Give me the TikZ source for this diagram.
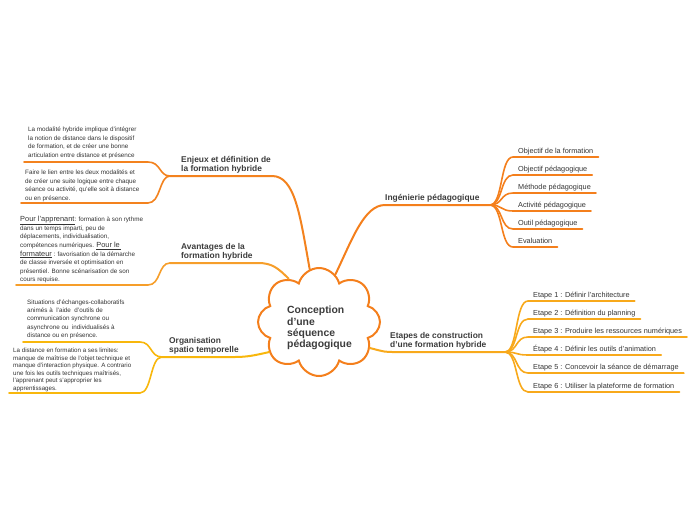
\documentclass[tikz,border=0pt]{standalone}
\usepackage{fontspec}
\setmainfont{Liberation Sans}
\usetikzlibrary{shapes.symbols}
\definecolor{cE}{HTML}{F3821E}
\definecolor{cA}{HTML}{F69E2A}
\definecolor{cO}{HTML}{F8B70C}
\definecolor{cI}{HTML}{F47F1C}
\definecolor{cS}{HTML}{F8A91B}
\definecolor{cloudc}{HTML}{F47F1C}
\definecolor{txt}{HTML}{333333}
\definecolor{lbltxt}{HTML}{3C3C3C}
\begin{document}
\begin{tikzpicture}[x=1pt,y=-1pt,
  leafR/.style={anchor=south west, inner xsep=5pt, inner ysep=3pt, text depth=0pt, font=\fontsize{7.3}{8}\selectfont, text=txt},
  blk/.style={anchor=south west, inner xsep=4pt, inner ysep=4pt, text depth=0pt, align=left, text=txt},
  lbl/.style={anchor=south west, inner xsep=5pt, inner ysep=4pt, text depth=0pt, align=left, font=\bfseries\fontsize{8.4}{9.5}\selectfont, text=lbltxt},
  br/.style={line width=2pt, line cap=round},
  sb/.style={line width=1.6pt, line cap=round}]
\useasboundingbox (0,0) rectangle (696,520);

% root
\node[cloud, cloud puffs=8, cloud ignores aspect, shape border rotate=22.5, draw=cloudc, line width=2pt,
      minimum width=122pt, minimum height=108pt, inner sep=0pt] (root) at (319,322) {};
\node[align=left, font=\bfseries\fontsize{10.4}{11.3}\selectfont, text=lbltxt] (roottxt) at (319.5,328)
  {Conception\\d'une\\séquence\\pédagogique};

% ---------- Enjeux ----------
\coordinate (jE) at (170,176);
\node[lbl] (lE) at (176,176) {Enjeux et définition de\\la formation hybride};
\draw[br,cE] (root.100) .. controls (300,215) and (295,176) .. (272,176) -- (jE);
\node[blk, inner ysep=4.5pt, font=\fontsize{6.3}{8.5}\selectfont] (L1) at (24,162)
  {La modalité hybride implique d'intégrer\\la notion de distance dans le dispositif\\de formation, et de créer une bonne\\articulation entre distance et présence};
\node[blk, inner ysep=2.5pt, font=\fontsize{6.3}{8.6}\selectfont] (L2) at (21,203)
  {Faire le lien entre les deux modalités et\\de créer une suite logique entre chaque\\séance ou activité, qu'elle soit à distance\\ou en présence.};
\draw[sb,cE] (jE) .. controls (159,176) and (161,162) .. (148,162) -- (L1.south west);
\draw[sb,cE] (jE) .. controls (159,176) and (161,203) .. (148,203) -- (L2.south west);

% ---------- Avantages ----------
\coordinate (jA) at (170,263);
\node[lbl] (lA) at (176,263) {Avantages de la\\formation hybride};
\draw[br,cA] (root.125) .. controls (278,268) and (272,263) .. (258,263) -- (jA);
\node[blk, inner ysep=3pt, font=\fontsize{6.3}{8.6}\selectfont] (L3) at (16,285)
  {{\fontsize{7.4}{8.6}\selectfont\underline{Pour l'apprenant}}: formation à son rythme\\dans un temps imparti, peu de\\déplacements, individualisation,\\compétences numériques. {\fontsize{7.4}{8.6}\selectfont\underline{Pour le\,}}\\{\fontsize{7.4}{8.6}\selectfont\underline{formateur}} : favorisation de la démarche\\de classe inversée et optimisation en\\présentiel. Bonne scénarisation de son\\cours requise.};
\draw[sb,cA] (jA) .. controls (158,263) and (161,285) .. (148,285) -- (L3.south west);

% ---------- Organisation ----------
\coordinate (jO) at (162,357);
\node[lbl] (lO) at (164,357) {Organisation\\spatio temporelle};
\draw[br,cO] (root.211) .. controls (256,355) and (248,357) .. (235,357) -- (jO);
\node[blk, inner ysep=4.5pt, font=\fontsize{6.3}{8.2}\selectfont] (L4) at (23,342)
  {Situations d'échanges-collaboratifs\\animés à~ l'aide~ d'outils de\\communication synchrone ou\\asynchrone ou~ individualisés à\\distance ou en présence.};
\node[blk, inner ysep=2.5pt, font=\fontsize{6.2}{7.5}\selectfont] (L5) at (9,393)
  {La distance en formation a ses limites:\\manque de maîtrise de l'objet technique et\\manque d'interaction physique. A contrario\\une fois les outils techniques maîtrisés,\\l'apprenant peut s'approprier les\\apprentissages.};
\draw[sb,cO] (jO) .. controls (150,357) and (152,342) .. (140,342) -- (L4.south west);
\draw[sb,cO] (jO) .. controls (150,357) and (152,393) .. (140,393) -- (L5.south west);

% ---------- Ingenierie ----------
\coordinate (fI) at (490,205);
\node[lbl] (lI) at (380,205) {Ingénierie pédagogique};
\draw[br,cI] (root.71) .. controls (352,240) and (364,205) .. (385,205) -- (fI);
\foreach \n/\y/\t in {1/157/Objectif de la formation, 2/175/Objectif pédagogique, 3/193/Méthode pédagogique, 4/211/Activité pédagogique, 5/229/Outil pédagogique, 6/247/Evaluation}{
  \node[leafR] (I\n) at (513,\y) {\t};
  \draw[sb,cI] (fI) .. controls (503,205) and (500,\y) .. (I\n.south west) -- (I\n.south east);
}

% ---------- Etapes ----------
\coordinate (fS) at (505,352);
\node[lbl] (lS) at (385,352) {Etapes de construction\\d'une formation hybride};
\draw[br,cS] (root.333) .. controls (385,352) .. (395,352) -- (fS);
\foreach \n/\y/\t in {1/301/{Etape 1 : Définir l'architecture}, 2/319/{Etape 2 : Définition du planning}, 3/337/{Etape 3 : Produire les ressources numériques}, 4/355/{Étape 4 : Définir les outils d'animation}, 5/373/{Etape 5 : Concevoir la séance de démarrage}, 6/392/{Etape 6 : Utiliser la plateforme de formation}}{
  \node[leafR] (S\n) at (528,\y) {\t};
  \draw[sb,cS] (fS) .. controls (518,352) and (515,\y) .. (S\n.south west) -- (S\n.south east);
}
\end{tikzpicture}
\end{document}
